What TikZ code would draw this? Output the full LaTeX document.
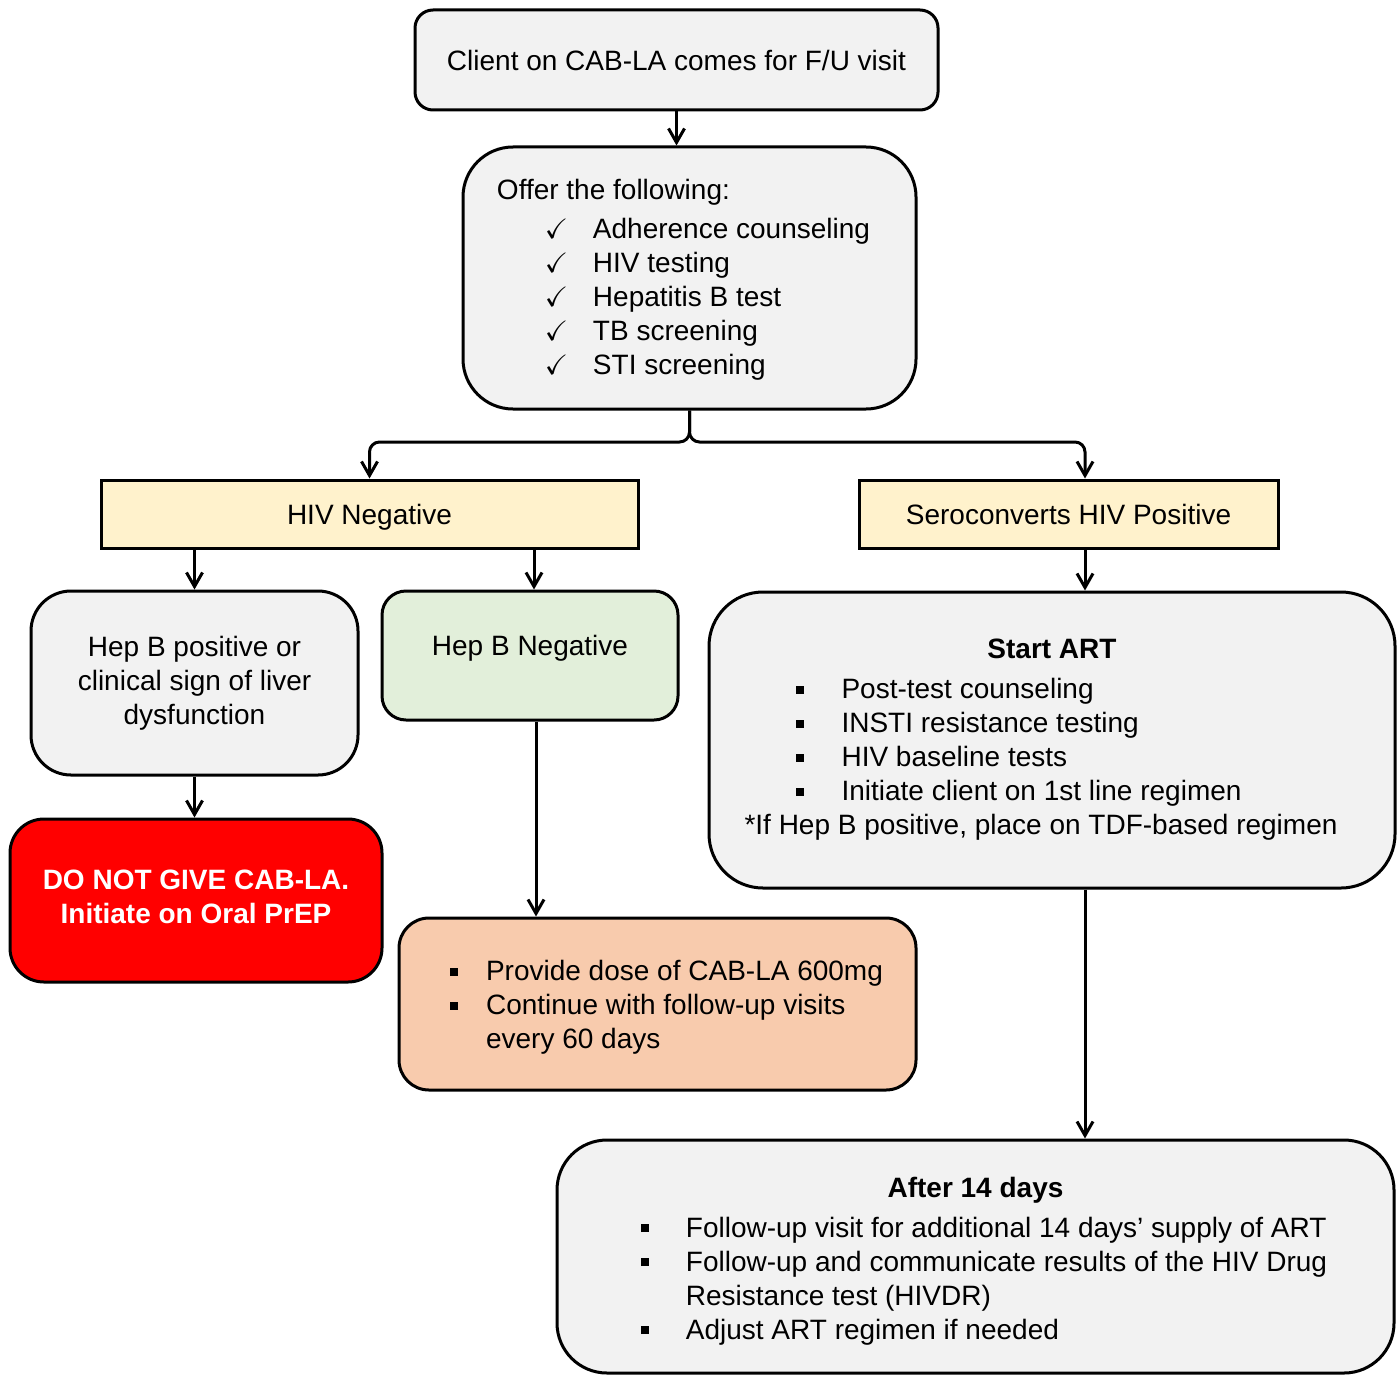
\documentclass[tikz,border=0pt]{standalone}
\usepackage{amssymb}
\usepackage{fontspec}
\setmainfont{Liberation Sans}
\usetikzlibrary{arrows.meta, positioning, calc}
\definecolor{BoxGrey}{HTML}{F2F2F2}
\definecolor{BoxCream}{HTML}{FFF2CC}
\definecolor{BoxGreen}{HTML}{E2EFDA}
\definecolor{BoxPeach}{HTML}{F8CBAD}
\definecolor{BoxRed}{HTML}{FF0000}
\newcommand{\sqbullet}{\rule[2.6pt]{4pt}{4pt}}
\newcommand{\chk}{$\checkmark$}

\begin{document}
\begin{tikzpicture}[x=0.5pt, y=-0.5pt, line width=1.5pt,
    font=\fontsize{14}{17}\selectfont,
    box/.style={draw, fill=BoxGrey, rounded corners=#1, align=center},
    box/.default=20pt,
    arr/.style={-{Straight Barb[length=7pt, width=8pt]}}]
    \useasboundingbox (0,0) rectangle (1400,1375);
    \node[box=9pt, minimum width=261.5pt, minimum height=50pt] (visit) at (676.5,60) {Client on CAB-LA comes for F/U visit};
    \node[box=25pt, minimum width=226.5pt, minimum height=131pt] (offer) at (689.5,278) {%
        \begin{tabular}{@{}p{24pt}@{}p{24pt}@{}l@{\hspace{6pt}}}
            \multicolumn{3}{@{}l@{}}{Offer the following:\rule{0pt}{14.4pt}}\\[2.5pt]
            & \chk & Adherence counseling\\
            & \chk & HIV testing\\
            & \chk & Hepatitis B test\\
            & \chk & TB screening\\
            & \chk & STI screening
        \end{tabular}};
    \node[draw, fill=BoxCream, text height=10pt, text depth=0pt, minimum width=268.5pt, minimum height=34pt] (hivneg) at (369.5,514) {HIV Negative};
    \node[draw, fill=BoxCream, text height=10pt, text depth=0pt, minimum width=209.5pt, minimum height=34pt] (sero) at (1068.5,514) {Seroconverts HIV Positive};
    \node[box=20pt, minimum width=163.5pt, minimum height=92pt] (hepbpos) at (194.5,683) {Hep B positive or\\clinical sign of liver\\dysfunction};
    \node[box=12pt, fill=BoxGreen, text height=10pt, text depth=10pt, minimum width=148pt, minimum height=64.5pt] (hepbneg) at (530,655.5) {Hep B Negative};
    \node[box=17pt, fill=BoxRed, text=white, font=\fontsize{14}{17}\selectfont\bfseries, minimum width=186pt, minimum height=81.5pt] (noprep) at (196,900.5) {DO NOT GIVE CAB-LA.\\Initiate on Oral PrEP\rule[-3.5pt]{0pt}{0pt}};
    \node[box=15pt, fill=BoxPeach, minimum width=258.5pt, minimum height=86pt] (dose) at (657.5,1004) {%
        \begin{tabular}{@{\hspace{9pt}}p{18pt}@{}l@{}}
            \sqbullet & Provide dose of CAB-LA 600mg\rule{0pt}{15.9pt}\\
            \sqbullet & Continue with follow-up visits\\
            & every 60 days
        \end{tabular}};
    \node[box=27pt, minimum width=343pt, minimum height=148pt] (startart) at (1052,740) {%
        \begin{tabular}{@{}p{25.5pt}@{}p{23pt}@{}l@{\hspace{11pt}}}
            \multicolumn{3}{@{}c@{}}{\textbf{Start ART}}\\[3pt]
            & \sqbullet & Post-test counseling\\
            & \sqbullet & INSTI resistance testing\\
            & \sqbullet & HIV baseline tests\\
            & \sqbullet & Initiate client on 1st line regimen\\
            \multicolumn{3}{@{}l@{\hspace{11pt}}}{*If Hep B positive, place on TDF-based regimen}
        \end{tabular}};
    \node[box=25pt, minimum width=418.5pt, minimum height=116.5pt] (after) at (975.5,1256.5) {%
        \begin{tabular}{@{\hspace{8.5pt}}p{22.5pt}@{}l@{}}
            \multicolumn{2}{@{}c@{}}{\textbf{After 14 days}\rule{0pt}{16.9pt}}\\[3pt]
            \sqbullet & Follow-up visit for additional 14 days’ supply of ART\\
            \sqbullet & Follow-up and communicate results of the HIV Drug\\
            & Resistance test (HIVDR)\\
            \sqbullet & Adjust ART regimen if needed
        \end{tabular}};
    % connectors
    \coordinate (split) at (687,442);
    \coordinate (rx) at (1085,0);
    \draw[arr] (visit) -- (visit.south |- offer.north);
    \draw[arr, rounded corners=5pt] (offer.south) |- (split -| hivneg.north) -- (hivneg.north);
    \draw[arr, rounded corners=5pt] (offer.south) |- (split -| rx) -- (sero.north -| rx);
    \draw[arr] (hivneg.south -| hepbpos.north) -- (hepbpos.north);
    \draw[arr] ([xshift=2pt]hivneg.south -| hepbneg.north) -- ([xshift=2pt]hepbneg.north);
    \draw[arr] (hepbpos) -- (hepbpos.south |- noprep.north);
    \draw[arr] ([xshift=3pt]hepbneg.south) -- ([xshift=3pt]hepbneg.south |- dose.north);
    \draw[arr] (sero.south -| rx) -- (startart.north -| rx);
    \draw[arr] (startart.south -| rx) -- (after.north -| rx);
\end{tikzpicture}
\end{document}
